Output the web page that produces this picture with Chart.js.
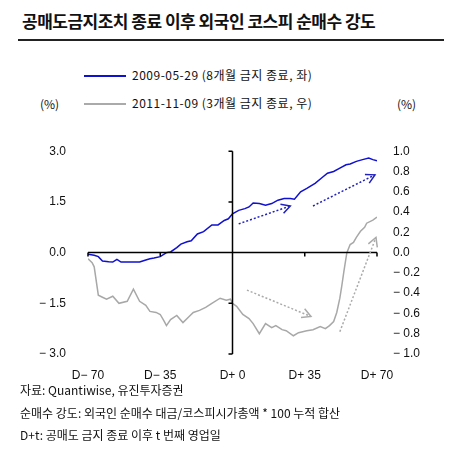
<!DOCTYPE html><html><head><meta charset="utf-8">
<script src="https://cdn.jsdelivr.net/npm/chart.js@4"></script>
<style>
body{margin:0;width:464px;height:450px;background:#fff;font-family:"Noto Sans CJK KR",sans-serif;position:relative;overflow:hidden}
.t{position:absolute;white-space:nowrap;color:#111}
</style></head><body>
<div class="t" style="left:22px;top:8px;font-size:17px;font-weight:bold;letter-spacing:-0.5px">공매도금지조치 종료 이후 외국인 코스피 순매수 강도</div>
<div style="position:absolute;left:18px;top:39px;width:426px;height:2px;background:#222"></div>
<div style="position:absolute;left:84px;top:75px;width:42px;height:2px;background:#1010d0"></div>
<div class="t" style="left:132px;top:66px;font-size:12px;letter-spacing:0.5px">2009-05-29 (8개월 금지 종료, 좌)</div>
<div style="position:absolute;left:84px;top:103px;width:42px;height:2px;background:#aaa"></div>
<div class="t" style="left:132px;top:94px;font-size:12px;letter-spacing:0.5px">2011-11-09 (3개월 금지 종료, 우)</div>
<div class="t" style="left:40px;top:95px;font-size:12px">(%)</div>
<div class="t" style="left:397px;top:95px;font-size:12px">(%)</div>
<div style="position:absolute;left:0;top:130px;width:464px;height:254px"><canvas id="c"></canvas></div>
<div class="t" style="left:20px;top:381px;font-size:12px">자료: Quantiwise, 유진투자증권</div>
<div class="t" style="left:20px;top:404px;font-size:12px">순매수 강도: 외국인 순매수 대금/코스피시가총액 * 100 누적 합산</div>
<div class="t" style="left:20px;top:426px;font-size:12px">D+t: 공매도 금지 종료 이후 t 번째 영업일</div>
<script>
const xTicks=[-70,-35,0,35,70];
const blueDays=[-70,-67,-65,-63,-60,-58,-56,-54,-50,-45,-42,-40,-38,-35,-32,-30,-27,-25,-22,-20,-17,-14,-10,-7,-4,-2,0,3,6,8,10,13,16,19,22,25,28,30,33,36,40,43,46,49,52,55,57,60,63,66,68,70];
const blueVals=[-0.05,-0.08,-0.12,-0.25,-0.27,-0.28,-0.2,-0.28,-0.28,-0.28,-0.22,-0.18,-0.16,-0.12,0.0,0.02,0.15,0.25,0.32,0.35,0.55,0.62,0.82,0.82,0.95,1.0,1.15,1.25,1.3,1.35,1.47,1.45,1.4,1.45,1.55,1.6,1.6,1.58,1.8,1.9,2.05,2.2,2.35,2.4,2.5,2.6,2.62,2.7,2.75,2.8,2.75,2.72];
const grayDays=[-70,-68,-67,-65,-63,-61,-58,-55,-51,-48,-45,-42,-40,-37,-35,-33,-32,-30,-27,-24,-21,-19,-16,-13,-10,-6,-3,-1,0,2,5,8,10,13,16,19,21,24,26,29.5,32,36,39,42.5,45,47,49,50.5,52,53,54,55.4,57,58.6,60,62,64,65,68,70];
const grayVals=[-0.06,-0.1,-0.14,-0.42,-0.44,-0.46,-0.43,-0.5,-0.48,-0.36,-0.48,-0.52,-0.58,-0.59,-0.61,-0.68,-0.72,-0.66,-0.62,-0.69,-0.63,-0.59,-0.57,-0.54,-0.5,-0.45,-0.47,-0.46,-0.5,-0.53,-0.61,-0.65,-0.7,-0.8,-0.7,-0.74,-0.72,-0.76,-0.77,-0.82,-0.79,-0.77,-0.76,-0.73,-0.75,-0.72,-0.68,-0.59,-0.45,-0.32,-0.18,0.0,0.08,0.1,0.15,0.21,0.25,0.29,0.32,0.35];
const leftTicks=[-3,-1.5,0,1.5,3];
const fmt=v=>(v<0?'− ':'')+Math.abs(v).toFixed(1);
const axisPlugin={id:'ax',afterDatasetsDraw(ch){
 const c=ch.ctx,x=ch.scales.x,y=ch.scales.y,y2=ch.scales.y2;
 c.save();c.strokeStyle='#000';c.lineWidth=1.5;
 const y0=y.getPixelForValue(0),x0=x.getPixelForValue(0);
 c.beginPath();c.moveTo(x.getPixelForValue(-70),y0);c.lineTo(x.getPixelForValue(70),y0);
 xTicks.forEach(t=>{const p=x.getPixelForValue(t);c.moveTo(p,y0);c.lineTo(p,y0+4);});
 c.moveTo(x0,y.getPixelForValue(3));c.lineTo(x0,y.getPixelForValue(-3));
 leftTicks.forEach(t=>{const p=y.getPixelForValue(t);c.moveTo(x0,p);c.lineTo(x0-4,p);});
 c.stroke();
 function arrow(sc,a,b,d,e,col){const X1=x.getPixelForValue(a),Y1=sc.getPixelForValue(b),X2=x.getPixelForValue(d),Y2=sc.getPixelForValue(e);
  c.strokeStyle=col;c.lineWidth=1.5;c.setLineDash([2,2]);c.beginPath();c.moveTo(X1,Y1);c.lineTo(X2,Y2);c.stroke();c.setLineDash([]);
  const ang=Math.atan2(Y2-Y1,X2-X1),L=10;c.beginPath();
  c.moveTo(X2-L*Math.cos(ang-0.5),Y2-L*Math.sin(ang-0.5));c.lineTo(X2,Y2);c.lineTo(X2-L*Math.cos(ang+0.5),Y2-L*Math.sin(ang+0.5));c.stroke();}
 arrow(y,3,0.85,28,1.38,'#2020c0');
 arrow(y,39,1.38,69,2.3,'#2020c0');
 arrow(y2,7,-0.37,38,-0.63,'#aaa');
 arrow(y2,52,-0.78,69.5,0.15,'#aaa');
 c.restore();}};
new Chart(document.getElementById('c'),{type:'line',
 data:{datasets:[
  {data:blueDays.map((d,i)=>({x:d,y:blueVals[i]})),borderColor:'#1010d0',borderWidth:1.5,pointRadius:0,yAxisID:'y',tension:0},
  {data:grayDays.map((d,i)=>({x:d,y:grayVals[i]})),borderColor:'#a8a8a8',borderWidth:1.5,pointRadius:0,yAxisID:'y2',tension:0}]},
 options:{responsive:true,maintainAspectRatio:false,animation:false,
  layout:{padding:{left:8,right:7,top:2,bottom:0}},
  plugins:{legend:{display:false},tooltip:{enabled:false}},
  scales:{
   x:{type:'linear',min:-70,max:70,afterBuildTicks(s){s.ticks=xTicks.map(v=>({value:v}));},afterFit(s){s.height=30;},
      grid:{display:false},border:{display:false},ticks:{color:'#111',font:{size:12},padding:6,maxRotation:0,callback:v=>'D'+(v<0?'− ':'+ ')+Math.abs(v)}},
   y:{position:'left',min:-3,max:3,afterBuildTicks(s){s.ticks=leftTicks.map(v=>({value:v}));},afterFit(s){s.width=80;},
      grid:{display:false},border:{display:false},ticks:{color:'#111',font:{size:12},padding:14,callback:fmt}},
   y2:{position:'right',min:-1,max:1,afterBuildTicks(s){s.ticks=[];for(let i=-5;i<=5;i++)s.ticks.push({value:i/5});},afterFit(s){s.width=80;},
      grid:{display:false},border:{display:false},ticks:{color:'#111',font:{size:12},padding:8,callback:fmt}}
  }},plugins:[axisPlugin]});
</script></body></html>
